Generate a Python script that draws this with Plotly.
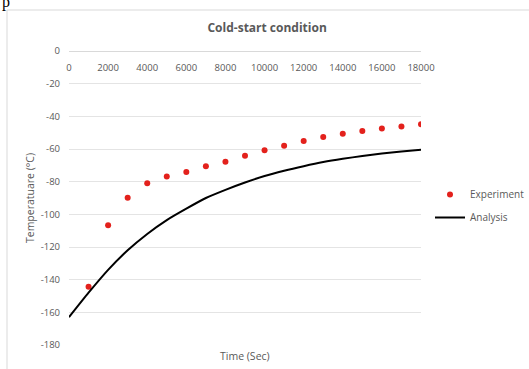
import plotly.graph_objects as go

# ---- data ----
exp_time = [1000, 2000, 3000, 4000, 5000, 6000, 7000, 8000, 9000, 10000,
            11000, 12000, 13000, 14000, 15000, 16000, 17000, 18000]
exp_temp = [-144.4, -106.7, -89.8, -81.0, -76.9, -74.1, -70.6, -67.8, -64.1, -60.8,
            -58.0, -55.1, -52.7, -50.6, -49.0, -47.5, -46.2, -44.9]

ana_time = [0, 1000, 2000, 3000, 4000, 5000, 6000, 7000, 8000, 9000, 10000,
            11000, 12000, 13000, 14000, 15000, 16000, 17000, 18000]
ana_temp = [-163, -148, -134, -122, -112, -103.5, -96.5, -90, -85, -80.5, -76.5,
            -73.3, -70.5, -68, -66, -64.3, -62.8, -61.5, -60.4]

x_ticks = [0, 2000, 4000, 6000, 8000, 10000, 12000, 14000, 16000, 18000]
y_ticks = [0, -20, -40, -60, -80, -100, -120, -140, -160, -180]

W, H = 529, 369
L, R, T, B = 69, 421, 51, 345
FONT = "Open Sans"
GRAY = "#595959"

def px(x):
    return (x - L) / (R - L)

def py(y):
    return (B - y) / (B - T)

fig = go.Figure()
fig.add_trace(go.Scatter(
    x=exp_time, y=exp_temp, mode="markers", name="Experiment", legendgroup="a",
    marker=dict(color="#e3211c", size=6, line=dict(width=0)),
))
fig.add_trace(go.Scatter(
    x=ana_time, y=ana_temp, mode="lines", name="Analysis", legendgroup="b",
    line=dict(color="black", width=2, shape="spline", smoothing=0.6),
))

fig.update_layout(
    width=W, height=H,
    margin=dict(l=L, r=W - R, t=T, b=H - B, pad=0, autoexpand=False),
    paper_bgcolor="white", plot_bgcolor="white",
    font=dict(family=FONT, color=GRAY, size=9.5),
    title=dict(text="<b>Cold-start condition</b>", x=0.505, xanchor="center",
               y=1 - 28 / H, yanchor="middle",
               font=dict(family=FONT, size=12, color=GRAY)),
    xaxis=dict(range=[0, 18000], tickvals=x_ticks, ticktext=[str(v) for v in x_ticks],
               anchor="free", position=1, side="bottom", automargin=False,
               showgrid=False, zeroline=False, showline=True, linecolor="#d9d9d9",
               linewidth=1, ticks="", ticklabelstandoff=8,
               tickfont=dict(size=9.5, color=GRAY)),
    yaxis=dict(range=[-180, 0], tickvals=y_ticks, ticktext=[str(v) for v in y_ticks],
               showgrid=True, gridcolor="#e4e4e4", gridwidth=1, zeroline=False,
               showline=False, ticks="", ticklabelstandoff=8, automargin=False,
               tickfont=dict(size=9.5, color=GRAY),
               title=dict(text="Temperatuare (°C)", standoff=3,
                          font=dict(size=10.5, color=GRAY))),
    legend=dict(x=px(430), xanchor="left", y=py(206), yanchor="middle",
                font=dict(size=10, color=GRAY), bgcolor="rgba(0,0,0,0)",
                itemwidth=30, tracegroupgap=4, traceorder="grouped"),
    showlegend=True,
)

fig.add_annotation(text="Time (Sec)", xref="paper", yref="paper",
                   x=0.5, y=py(356), xanchor="center", yanchor="middle",
                   showarrow=False, font=dict(size=10.5, color=GRAY, family=FONT))

fig.add_annotation(text="p", xref="paper", yref="paper",
                   x=px(0), y=py(2), xanchor="left", yanchor="middle",
                   showarrow=False,
                   font=dict(size=16, color="black", family="Liberation Serif"))

fig.add_shape(type="rect", xref="paper", yref="paper",
              x0=px(7), x1=px(W + 20), y0=py(10), y1=py(H + 20),
              line=dict(color="#d9d9d9", width=1), fillcolor="rgba(0,0,0,0)",
              layer="below")

fig.write_html("out.html", config={"displayModeBar": False},
               post_script="document.body.style.margin='0px';"
                           "document.body.style.padding='0px';")
